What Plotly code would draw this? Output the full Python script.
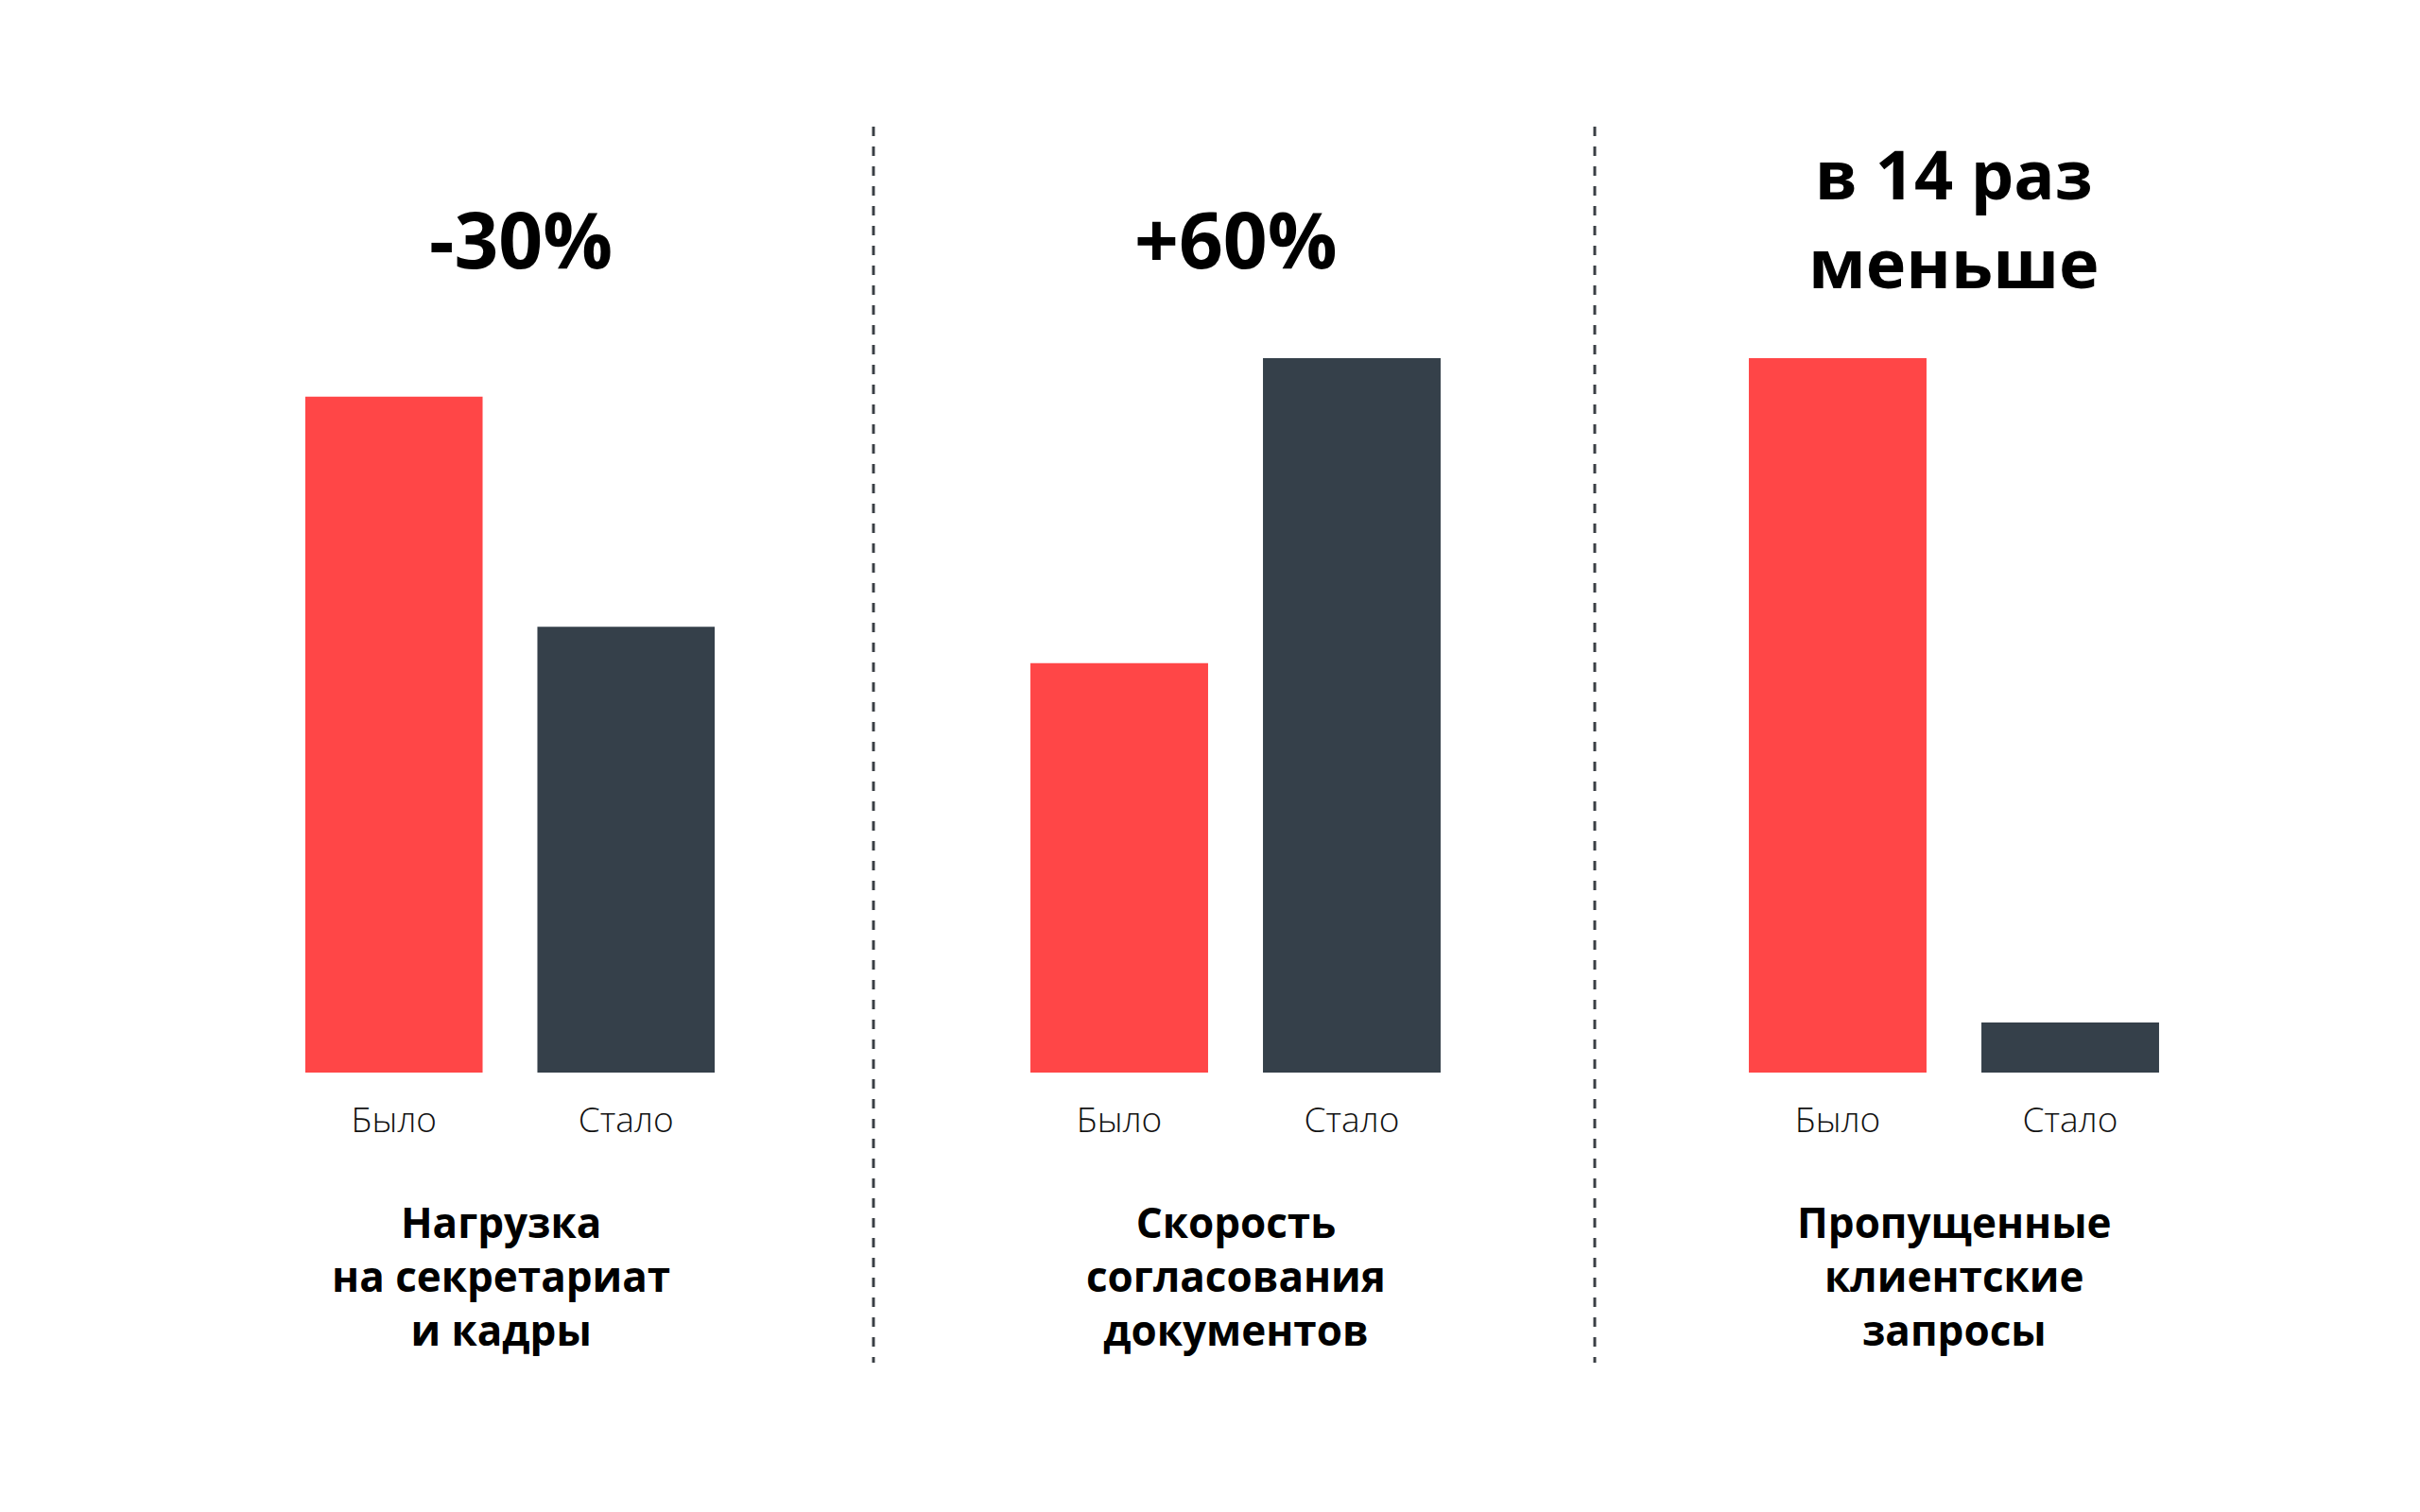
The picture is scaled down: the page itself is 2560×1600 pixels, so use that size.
import plotly.graph_objects as go

# ---- data ----
categories = ["Было", "Стало"]
panel_headlines = ["-30%", "+60%", "в 14 раз<br>меньше"]
panel_titles = [
    "Нагрузка<br>на секретариат<br>и кадры",
    "Скорость<br>согласования<br>документов",
    "Пропущенные<br>клиентские<br>запросы",
]
values_p1 = [94.6, 62.4]
values_p2 = [57.3, 100.0]
values_p3 = [100.0, 7.0]
panel_values = [values_p1, values_p2, values_p3]

RED = "#FF4647"
DARK = "#35404A"
FONT = "Open Sans, Noto Sans, DejaVu Sans, sans-serif"

W, H = 2560, 1600
OFF = 8  # page body margin compensation


def px_x(p):
    return (p - OFF) / W


def px_y(p):
    return 1 - (p - OFF) / H


x_domains_px = [(294, 785), (1061, 1553), (1821, 2313)]
ydom = [px_y(1135), px_y(379)]
headline_y = [px_y(252), px_y(252), px_y(230)]
headline_size = [82, 82, 72]
headline_xshift = [11, 0, 0]
title_xshift = [-10, 0, 0]

fig = go.Figure()
for i, vals in enumerate(panel_values):
    n = "" if i == 0 else str(i + 1)
    fig.add_trace(go.Bar(
        x=categories, y=vals,
        marker=dict(color=[RED, DARK], line=dict(width=0)),
        xaxis="x" + n, yaxis="y" + n,
        hoverinfo="skip", showlegend=False,
    ))
    x0, x1 = x_domains_px[i]
    fig.layout["xaxis" + n] = dict(
        domain=[px_x(x0), px_x(x1)], type="category", range=[-0.5, 1.5],
        showgrid=False, zeroline=False, showline=False, ticks="",
        tickfont=dict(family=FONT, size=37, color="#111111", weight=300),
        ticklabelstandoff=25, anchor="y" + n, fixedrange=True,
    )
    fig.layout["yaxis" + n] = dict(
        domain=ydom, range=[0, 100], visible=False, anchor="x" + n,
        fixedrange=True,
    )
    fig.add_annotation(
        x=0.5, y=headline_y[i], xref="x" + n, yref="paper",
        text=panel_headlines[i], xshift=headline_xshift[i],
        showarrow=False, xanchor="center", yanchor="middle",
        font=dict(family=FONT, size=headline_size[i], color="#000000", weight=700),
    )
    fig.add_annotation(
        x=0.5, y=px_y(1350), xref="x" + n, yref="paper",
        text=panel_titles[i], xshift=title_xshift[i],
        showarrow=False, xanchor="center", yanchor="middle", align="center",
        font=dict(family=FONT, size=44, color="#000000", weight=700),
    )

for xp in (924, 1687):
    fig.add_shape(
        type="line", xref="paper", yref="paper",
        x0=px_x(xp), x1=px_x(xp), y0=px_y(134), y1=px_y(1442),
        line=dict(color="#3a3f45", width=3, dash="10px,11px"),
    )

fig.update_layout(
    width=W, height=H,
    margin=dict(l=0, r=0, t=0, b=0),
    paper_bgcolor="white", plot_bgcolor="white",
    bargap=0.236,
    font=dict(family=FONT),
)

fig.write_html("out.html")
